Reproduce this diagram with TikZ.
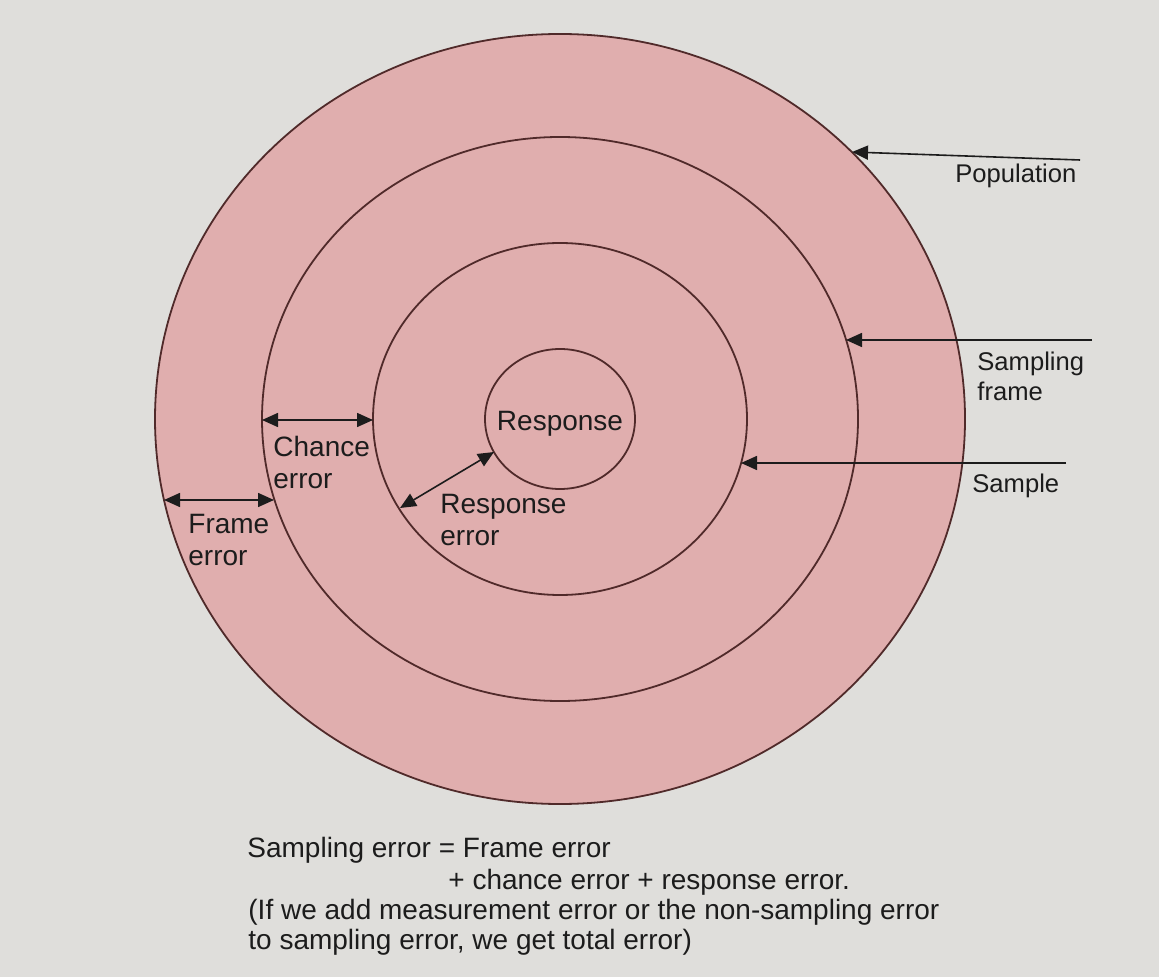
\documentclass[tikz,border=0pt]{standalone}
\usepackage{fontspec}
\setmainfont{Liberation Sans}
\usetikzlibrary{arrows.meta}
\definecolor{pagegray}{RGB}{223,222,219}
\definecolor{ringpink}{RGB}{224,174,174}
\definecolor{ringline}{RGB}{80,42,42}
\definecolor{inkgray}{RGB}{28,28,28}

\begin{document}
\begin{tikzpicture}[x=0.5pt,y=-0.5pt,>={Triangle[length=8pt,width=7pt]},
  ring/.style={draw=ringline,line width=0.9pt},
  pointer/.style={->,draw=inkgray,line width=0.8pt},
  span/.style={<->,draw=inkgray,line width=0.8pt},
  lbl/.style={inner sep=0pt,text=inkgray,align=left,anchor=base west,
    font=\fontsize{12.8}{15}\selectfont},
  inlbl/.style={lbl,font=\fontsize{14}{16}\selectfont}]
  % page
  \fill[pagegray] (0,0) rectangle (1159,977);
  \useasboundingbox (0,0) rectangle (1159,977);
  % rings
  \coordinate (ctr) at (560,419);
  \fill[ringpink] (ctr) ellipse [x radius=405, y radius=385];
  \draw[ring] (ctr) ellipse [x radius=405, y radius=385];
  \draw[ring] (ctr) ellipse [x radius=298, y radius=282];
  \draw[ring] (ctr) ellipse [x radius=187, y radius=176];
  \draw[ring] (ctr) ellipse [x radius=75, y radius=70];
  % labels on the right (multi-line nodes sit on their last line)
  \node[lbl] (popLabel) at (955,183) {Population};
  \node[lbl] (frameLabel) at (977,401) {Sampling\\frame};
  \node[lbl] (sampleLabel) at (972,492) {Sample};
  \coordinate (popEnd) at (1080,160);
  \coordinate (popTip) at (852,152);
  \coordinate (frameEnd) at (1092,340);
  \coordinate (frameTip) at (846,340);
  \coordinate (sampleEnd) at (1066,463);
  \coordinate (sampleTip) at (741,463);
  \draw[pointer] (popEnd) -- (popTip);
  \draw[pointer] (frameEnd) -- (frameTip);
  \draw[pointer] (sampleEnd) -- (sampleTip);
  % errors
  \node[inlbl,anchor=base] (respLabel) at (560,430) {Response};
  \node[inlbl] (chanceLabel) at (273,488) {Chance\\error};
  \node[inlbl] (frameErrLabel) at (188,565) {Frame\\error};
  \node[inlbl] (respErrLabel) at (440,545) {Response\\error};
  \coordinate (chanceL) at (262,420);
  \coordinate (chanceR) at (373,420);
  \coordinate (frameErrL) at (164,500);
  \coordinate (frameErrR) at (274,500);
  \coordinate (respErrA) at (400,508);
  \coordinate (respErrB) at (494,452);
  \draw[span] (chanceL) -- (chanceR);
  \draw[span] (frameErrL) -- (frameErrR);
  \draw[span] (respErrA) -- (respErrB);
  % formula
  \node[inlbl] (sumEq) at (247,857) {Sampling error = Frame error};
  \node[inlbl] (sumRest) at (448,889) {+ chance error + response error.};
  \node[inlbl,font=\fontsize{14}{15}\selectfont] (totalNote) at (248,949)
    {(If we add measurement error or the non-sampling error\\to sampling error, we get total error)};
\end{tikzpicture}
\end{document}
